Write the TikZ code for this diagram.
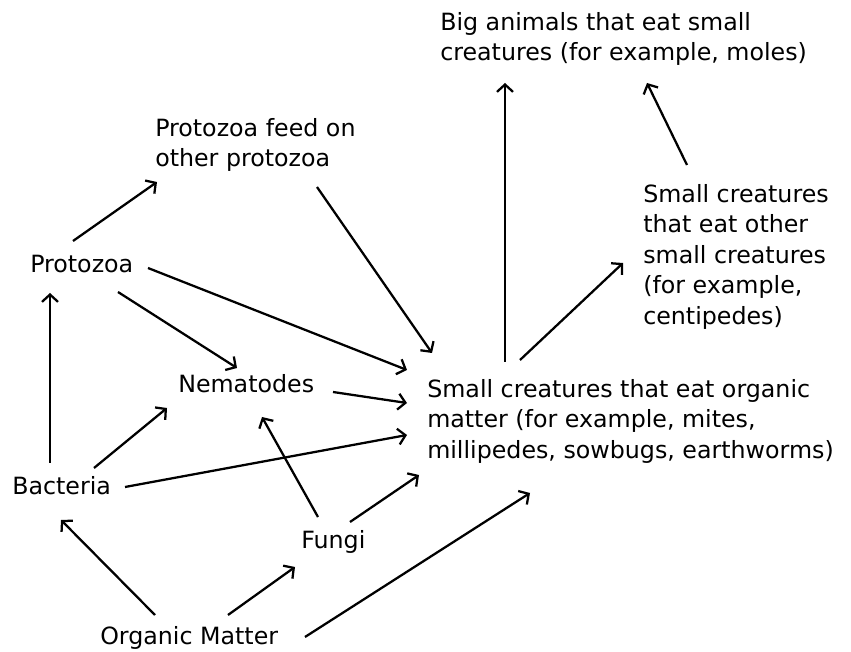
\documentclass[tikz,border=0pt]{standalone}
\usepackage{fontspec}
\setmainfont{DejaVu Sans}
\usetikzlibrary{arrows.meta}
\newcommand{\webfont}{\fontsize{17.8}{22.9}\selectfont}
\tikzset{
  lbl/.style={inner sep=0, align=left, font=\webfont},
  arr/.style={line width=1.7pt, -{Straight Barb[length=5.5pt,width=12pt]}}
}
\begin{document}
\begin{tikzpicture}[x=0.75pt, y=-0.75pt]
    \useasboundingbox (0,0) rectangle (851,652);

    \node[lbl, anchor=north west] (big) at (440, 12) {Big animals that eat small\\creatures (for example, moles)};
    \node[lbl, anchor=north west] (feed) at (155, 118) {Protozoa feed on\\other protozoa};
    \node[lbl, anchor=north west] (centi) at (643, 184) {Small creatures\\that eat other\\small creatures\\(for example,\\centipedes)};
    \node[lbl, anchor=north west] (small) at (427, 379) {Small creatures that eat organic\\matter (for example, mites,\\millipedes, sowbugs, earthworms)};

    \node[lbl, anchor=base west] (proto) at (30, 273) {Protozoa};
    \node[lbl, anchor=base west] (nema) at (178, 393) {Nematodes};
    \node[lbl, anchor=base west] (bact) at (12, 495) {Bacteria};
    \node[lbl, anchor=base west] (fungi) at (301, 549) {Fungi};
    \node[lbl, anchor=base west] (organic) at (100, 644) {Organic Matter};

    \draw[arr] ([shift={(43,-32)}]proto.base west) -- ([shift={(2,64)}]feed.north west);
    \draw[arr] ([shift={(162,69)}]feed.north west) -- ([shift={(5,-26)}]small.north west);
    \draw[arr] ([shift={(118,-5)}]proto.base west) -- ([shift={(-20,-9)}]small.north west);
    \draw[arr] ([shift={(88,19)}]proto.base west) -- ([shift={(59,-25)}]nema.base west);
    \draw[arr] ([shift={(38,-32)}]bact.base west) -- ([shift={(20,20)}]proto.base west);
    \draw[arr] ([shift={(82,-27)}]bact.base west) -- ([shift={(-11,15)}]nema.base west);
    \draw[arr] ([shift={(113,-8)}]bact.base west) -- ([shift={(-20,56)}]small.north west);
    \draw[arr] ([shift={(155,-1)}]nema.base west) -- ([shift={(-20,24)}]small.north west);
    \draw[arr] ([shift={(17,-32)}]fungi.base west) -- ([shift={(84,24)}]nema.base west);
    \draw[arr] ([shift={(49,-27)}]fungi.base west) -- ([shift={(-8,96)}]small.north west);
    \draw[arr] ([shift={(55,-29)}]organic.base west) -- ([shift={(49,25)}]bact.base west);
    \draw[arr] ([shift={(128,-29)}]organic.base west) -- ([shift={(-6,18)}]fungi.base west);
    \draw[arr] ([shift={(205,-7)}]organic.base west) -- ([shift={(103,114)}]small.north west);
    \draw[arr] ([shift={(78,-17)}]small.north west) -- ([shift={(65,71)}]big.north west);
    \draw[arr] ([shift={(93,-19)}]small.north west) -- ([shift={(-20,79)}]centi.north west);
    \draw[arr] ([shift={(44,-19)}]centi.north west) -- ([shift={(207,71)}]big.north west);
\end{tikzpicture}
\end{document}
